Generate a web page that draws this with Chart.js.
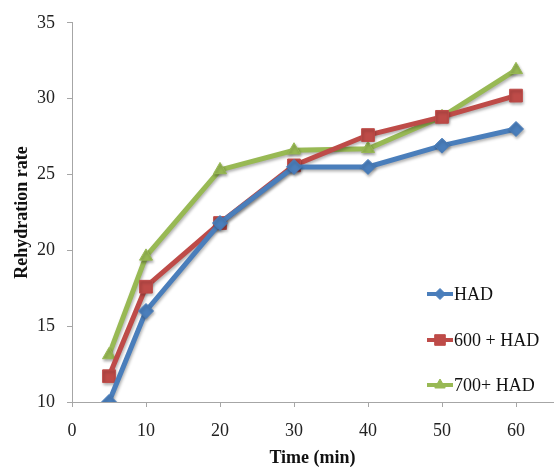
<!DOCTYPE html>
<html>
<head>
<meta charset="utf-8">
<script src="https://cdn.jsdelivr.net/npm/chart.js@4.4.0/dist/chart.umd.min.js"></script>
<style>
  html, body { margin: 0; padding: 0; background: #fff; }
  #wrap { width: 554px; height: 469px; }
</style>
</head>
<body>
<div id="wrap"><canvas id="lineChart1" width="554" height="469"></canvas></div>
<script>
// data
var times = [5, 10, 20, 30, 40, 50, 60];
var had = [10.0, 16.0, 21.8, 25.5, 25.5, 26.9, 28.0];
var had600 = [11.7, 17.6, 21.8, 25.6, 27.6, 28.8, 30.2];
var had700 = [13.1, 19.6, 25.3, 26.6, 26.7, 28.8, 31.9];
var seriesNames = ['HAD', '600 + HAD', '700+ HAD'];
var xTicks = [0, 10, 20, 30, 40, 50, 60];
var yTicks = [10, 15, 20, 25, 30, 35];

var colors = ['#4a7ebb', '#be4b48', '#98b954'];
var shapes = ['rectRot', 'rect', 'triangle'];
var sizes = [7.5, 9, 7.5];
var legendSizes = [5.5, 7.5, 6];

function toPoints(vals) {
    return times.map(function (t, i) { return { x: t, y: vals[i] }; });
}

var serif = '"Liberation Serif", "Times New Roman", serif';
var axisGray = '#a6a6a6';

// small shadow under lines and markers, like the office chart
var shadowPlugin = {
    id: 'shadow',
    beforeDatasetsDraw: function (chart) {
        var c = chart.ctx;
        c.save();
        c.shadowColor = 'rgba(0,0,0,0.3)';
        c.shadowBlur = 3;
        c.shadowOffsetX = 1;
        c.shadowOffsetY = 2;
    },
    afterDatasetsDraw: function (chart) {
        chart.ctx.restore();
    }
};

// the x axis runs right to the edge of the picture (no room kept for the last label)
var stretchPlugin = {
    id: 'stretchX',
    afterLayout: function (chart) {
        var right = 553;
        var x = chart.scales.x;
        x.right = right;
        x.width = right - x.left;
        x.configure();
        chart.chartArea.right = right;
        chart.chartArea.width = right - chart.chartArea.left;
    }
};

// legend drawn inside the plot, lower right
var legendPlugin = {
    id: 'innerLegend',
    afterDraw: function (chart) {
        var c = chart.ctx;
        var ys = [294, 340, 385];
        c.save();
        chart.data.datasets.forEach(function (ds, i) {
            var y = ys[i];
            c.strokeStyle = ds.borderColor;
            c.lineWidth = 4;
            c.beginPath();
            c.moveTo(427, y);
            c.lineTo(453, y);
            c.stroke();
            c.fillStyle = ds.backgroundColor;
            c.strokeStyle = ds.pointBorderColor;
            c.lineWidth = 1;
            Chart.helpers.drawPoint(c, {
                pointStyle: ds.pointStyle,
                radius: legendSizes[i],
                borderWidth: 1
            }, 440, y);
            c.fillStyle = '#111';
            c.font = '18px ' + serif;
            c.textBaseline = 'middle';
            c.textAlign = 'left';
            c.fillText(seriesNames[i], 454, y + 1);
        });
        c.restore();
    }
};

var datasets = [had, had600, had700].map(function (vals, i) {
    return {
        label: seriesNames[i],
        data: toPoints(vals),
        borderColor: colors[i],
        backgroundColor: colors[i],
        pointBorderColor: colors[i],
        borderWidth: 5,
        pointStyle: shapes[i],
        pointRadius: sizes[i],
        pointBorderWidth: 1,
        tension: 0,
        fill: false
    };
});

new Chart(document.getElementById('lineChart1').getContext('2d'), {
    type: 'line',
    data: { datasets: datasets },
    plugins: [stretchPlugin, shadowPlugin, legendPlugin],
    options: {
        responsive: false,
        animation: false,
        layout: { padding: { top: 22, right: 1, left: 0, bottom: 0 } },
        plugins: {
            legend: { display: false },
            tooltip: { enabled: false }
        },
        scales: {
            x: {
                type: 'linear',
                min: 0,
                max: 65,
                afterBuildTicks: function (scale) {
                    scale.ticks = xTicks.map(function (v) { return { value: v }; });
                },
                afterFit: function (scale) {
                    scale.height = 67;
                },
                grid: { drawOnChartArea: false, drawTicks: true, tickLength: 5, color: axisGray },
                border: { display: true, color: axisGray, width: 1 },
                ticks: { color: '#222', font: { family: serif, size: 18 }, padding: 13, maxRotation: 0 },
                title: {
                    display: true,
                    text: 'Time (min)',
                    color: '#111',
                    font: { family: serif, size: 18, weight: 'bold' },
                    padding: { top: 3, bottom: 0 }
                }
            },
            y: {
                min: 10,
                max: 35,
                afterBuildTicks: function (scale) {
                    scale.ticks = yTicks.map(function (v) { return { value: v }; });
                },
                afterFit: function (scale) {
                    scale.width = 72;
                },
                grid: { drawOnChartArea: false, drawTicks: true, tickLength: 5, color: axisGray },
                border: { display: true, color: axisGray, width: 1 },
                ticks: { color: '#222', font: { family: serif, size: 18 }, padding: 12 },
                title: {
                    display: true,
                    text: 'Rehydration rate',
                    color: '#111',
                    font: { family: serif, size: 18, weight: 'bold' },
                    padding: { top: 12, bottom: 0 }
                }
            }
        }
    }
});
</script>
</body>
</html>
